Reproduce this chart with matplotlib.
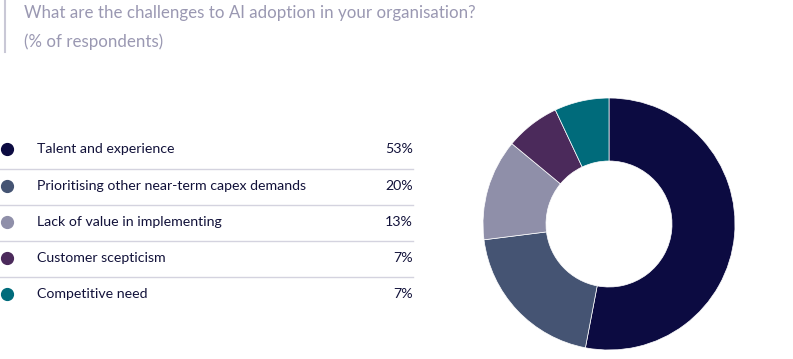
import matplotlib.pyplot as plt
from matplotlib.lines import Line2D

labels = ['Talent and experience', 'Prioritising other near-term capex demands',
          'Lack of value in implementing', 'Customer scepticism', 'Competitive need']
values = [53, 20, 13, 7, 7]
colors = ['#0c0b41', '#455473', '#8f8fa9', '#4b2a5b', '#006b7b']

W, H = 793, 359
plt.rcParams['font.family'] = ['Lato', 'DejaVu Sans']
fig = plt.figure(figsize=(W / 100, H / 100), dpi=100)

def fx(x):
    return x / W

def fy(y):
    return 1 - y / H

# title
fig.add_artist(Line2D([fx(5), fx(5)], [fy(0), fy(52)], color='#c9c8d6', lw=1.5))
fig.text(fx(24), fy(13), 'What are the challenges to AI adoption in your organisation?',
         fontsize=12.2, color='#9a98b2', va='center')
fig.text(fx(24), fy(42), '(% of respondents)', fontsize=12.2, color='#9a98b2', va='center')

# legend table
row_y = [149, 186, 222, 258, 294]
for i in range(len(labels)):
    y = row_y[i]
    fig.add_artist(Line2D([fx(7)], [fy(y)], marker='o', markersize=8.5,
                          color=colors[i], lw=0))
    fig.text(fx(37), fy(y), labels[i], fontsize=10.15, color='#12123a', va='center')
    fig.text(fx(413), fy(y), f'{values[i]}%', fontsize=10.15, color='#12123a',
             va='center', ha='right')
    if i < len(labels) - 1:
        ly = (row_y[i] + row_y[i + 1]) / 2 + 1
        fig.add_artist(Line2D([fx(0), fx(413)], [fy(ly), fy(ly)], color='#d4d3df', lw=1))

# donut
cx, cy, r = 609, 224, 126
ax = fig.add_axes([fx(cx - r), fy(cy + r), 2 * r / W, 2 * r / H])
ax.pie(values, colors=colors, startangle=90, counterclock=False, radius=1,
       wedgeprops=dict(width=0.5, edgecolor='white', linewidth=0.5))
ax.set_xlim(-1, 1)
ax.set_ylim(-1, 1)
ax.set_aspect('equal')
ax.axis('off')

fig.savefig('out.png', dpi=100)
